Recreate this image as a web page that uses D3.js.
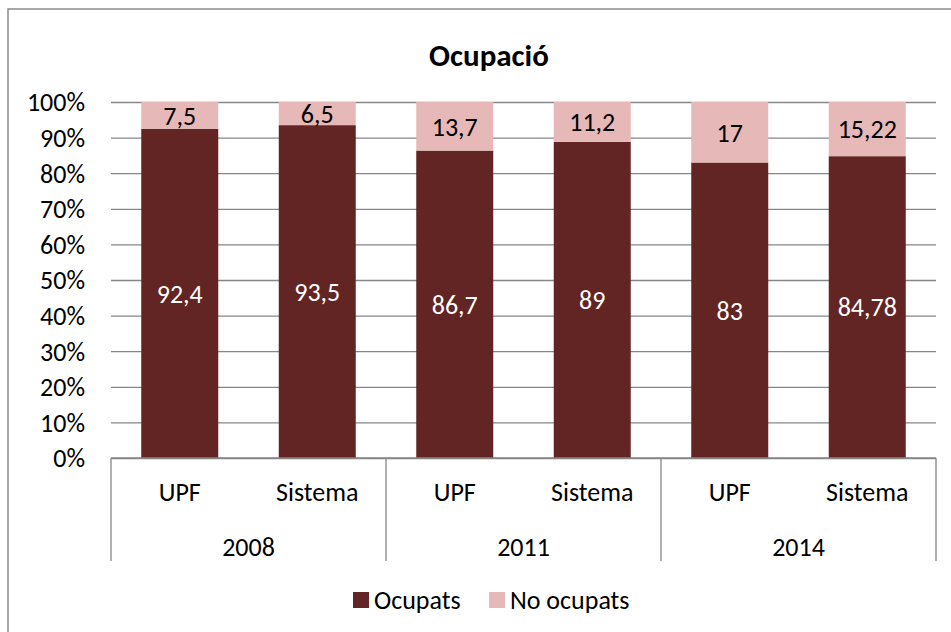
<!DOCTYPE html>
<html>
<head>
<meta charset="utf-8">
<script src="https://cdn.jsdelivr.net/npm/d3@7"></script>
<style>
  body { margin: 0; background: #fff; }
  svg text { font-family: Carlito, "Liberation Sans Narrow", "Open Sans", sans-serif; }
</style>
</head>
<body>
<svg id="vis"></svg>
<script>
// DADES -------------------------------------------------------------
const anys = ["2008", "2011", "2014"];
const grups = ["UPF", "Sistema"];
const ocupats = [92.4, 93.5, 86.7, 89, 83, 84.78];
const noOcupats = [7.5, 6.5, 13.7, 11.2, 17, 15.22];
const etiquetesOcupats = ["92,4", "93,5", "86,7", "89", "83", "84,78"];
const etiquetesNoOcupats = ["7,5", "6,5", "13,7", "11,2", "17", "15,22"];
const series = ["Ocupats", "No ocupats"];
const ticksY = [0, 0.1, 0.2, 0.3, 0.4, 0.5, 0.6, 0.7, 0.8, 0.9, 1];

// CONSTANTS ---------------------------------------------------------
const WIDTH = 951;
const HEIGHT = 632;
const MARGIN = { top: 102, bottom: 174, left: 111, right: 15 };
const HEIGHTVIS = HEIGHT - MARGIN.top - MARGIN.bottom;
const WIDTHVIS = WIDTH - MARGIN.left - MARGIN.right;
const COLORS = { "Ocupats": "#632523", "No ocupats": "#e6b9b8" };
const FONT = 26;

const svg = d3.select("#vis").attr("width", WIDTH).attr("height", HEIGHT);

// marc del grafic
svg.append("rect")
  .attr("x", 8).attr("y", 9)
  .attr("width", 960).attr("height", 640)
  .attr("fill", "#fff")
  .attr("stroke", "#8c8c8c")
  .attr("stroke-width", 1.5);

svg.append("text")
  .attr("x", 489).attr("y", 66)
  .attr("text-anchor", "middle")
  .style("font-size", "31px")
  .style("font-weight", "bold")
  .text("Ocupació");

// taula per al stack
const files = [];
anys.forEach((a, i) => {
  grups.forEach((g, j) => {
    const k = i * grups.length + j;
    files.push({
      key: a + "-" + g, any: a, grup: g,
      "Ocupats": ocupats[k], "No ocupats": noOcupats[k],
      labels: { "Ocupats": etiquetesOcupats[k], "No ocupats": etiquetesNoOcupats[k] },
    });
  });
});

const stack = d3.stack().keys(series).offset(d3.stackOffsetExpand)(files);

const escalaX = d3.scaleBand()
  .domain(files.map((d) => d.key))
  .range([0, WIDTHVIS])
  .paddingInner(0.44)
  .paddingOuter(0.22);

const escalaY = d3.scaleLinear().domain([0, 1]).range([HEIGHTVIS, 0]);

const contenedor = svg.append("g")
  .attr("transform", `translate(${MARGIN.left} ${MARGIN.top})`);

// EIX Y amb linies de graella
const ejeY = d3.axisLeft(escalaY).tickValues(ticksY)
  .tickFormat((d) => Math.round(d * 100) + "%")
  .tickSize(-WIDTHVIS).tickPadding(26);
const gY = contenedor.append("g").call(ejeY);
gY.select(".domain").remove();
gY.selectAll("line").attr("stroke", "#868686").attr("stroke-width", 1.3);
gY.selectAll("text")
  .style("font-size", FONT + "px")
  .attr("fill", "#000")
  .attr("dy", "0.34em");

// BARRES
const capes = contenedor.selectAll("g.serie")
  .data(stack)
  .join("g")
  .attr("class", "serie")
  .attr("fill", (d) => COLORS[d.key]);

capes.selectAll("rect")
  .data((d) => d)
  .join("rect")
  .attr("x", (d) => escalaX(d.data.key))
  .attr("y", (d) => escalaY(d[1]))
  .attr("width", escalaX.bandwidth())
  .attr("height", (d) => escalaY(d[0]) - escalaY(d[1]));

// ETIQUETES DE DADES
stack.forEach((s) => {
  contenedor.append("g")
    .selectAll("text")
    .data(s)
    .join("text")
    .attr("x", (d) => escalaX(d.data.key) + escalaX.bandwidth() / 2)
    .attr("y", (d) => (escalaY(d[0]) + escalaY(d[1])) / 2)
    .attr("dy", "0.36em")
    .attr("text-anchor", "middle")
    .style("font-size", FONT + "px")
    .attr("fill", s.key === "Ocupats" ? "#fff" : "#000")
    .text((d) => d.data.labels[s.key]);
});

// EIX X de dos nivells
const ejeX = contenedor.append("g").attr("transform", `translate(0, ${HEIGHTVIS})`);
ejeX.append("line")
  .attr("x1", 0).attr("x2", WIDTHVIS)
  .attr("stroke", "#868686").attr("stroke-width", 1.3);

const ampleGrup = WIDTHVIS / anys.length;
d3.range(anys.length + 1).forEach((i) => {
  ejeX.append("line")
    .attr("x1", i * ampleGrup).attr("x2", i * ampleGrup)
    .attr("y1", 0).attr("y2", 103)
    .attr("stroke", "#868686").attr("stroke-width", 1.3);
});

ejeX.selectAll("text.grup")
  .data(files)
  .join("text")
  .attr("class", "grup")
  .attr("x", (d) => escalaX(d.key) + escalaX.bandwidth() / 2)
  .attr("y", 43)
  .attr("text-anchor", "middle")
  .style("font-size", FONT + "px")
  .text((d) => d.grup);

ejeX.selectAll("text.any")
  .data(anys)
  .join("text")
  .attr("class", "any")
  .attr("x", (d, i) => (i + 0.5) * ampleGrup)
  .attr("y", 98)
  .attr("text-anchor", "middle")
  .style("font-size", FONT + "px")
  .text((d) => d);

// LLEGENDA
const llegenda = svg.append("g").attr("transform", "translate(353, 592)");
const posLlegenda = [0, 136];
series.forEach((s, i) => {
  llegenda.append("rect")
    .attr("x", posLlegenda[i]).attr("y", 0)
    .attr("width", 16).attr("height", 16)
    .attr("fill", COLORS[s]);
  llegenda.append("text")
    .attr("x", posLlegenda[i] + 21).attr("y", 17)
    .style("font-size", FONT + "px")
    .text(s);
});
</script>
</body>
</html>
